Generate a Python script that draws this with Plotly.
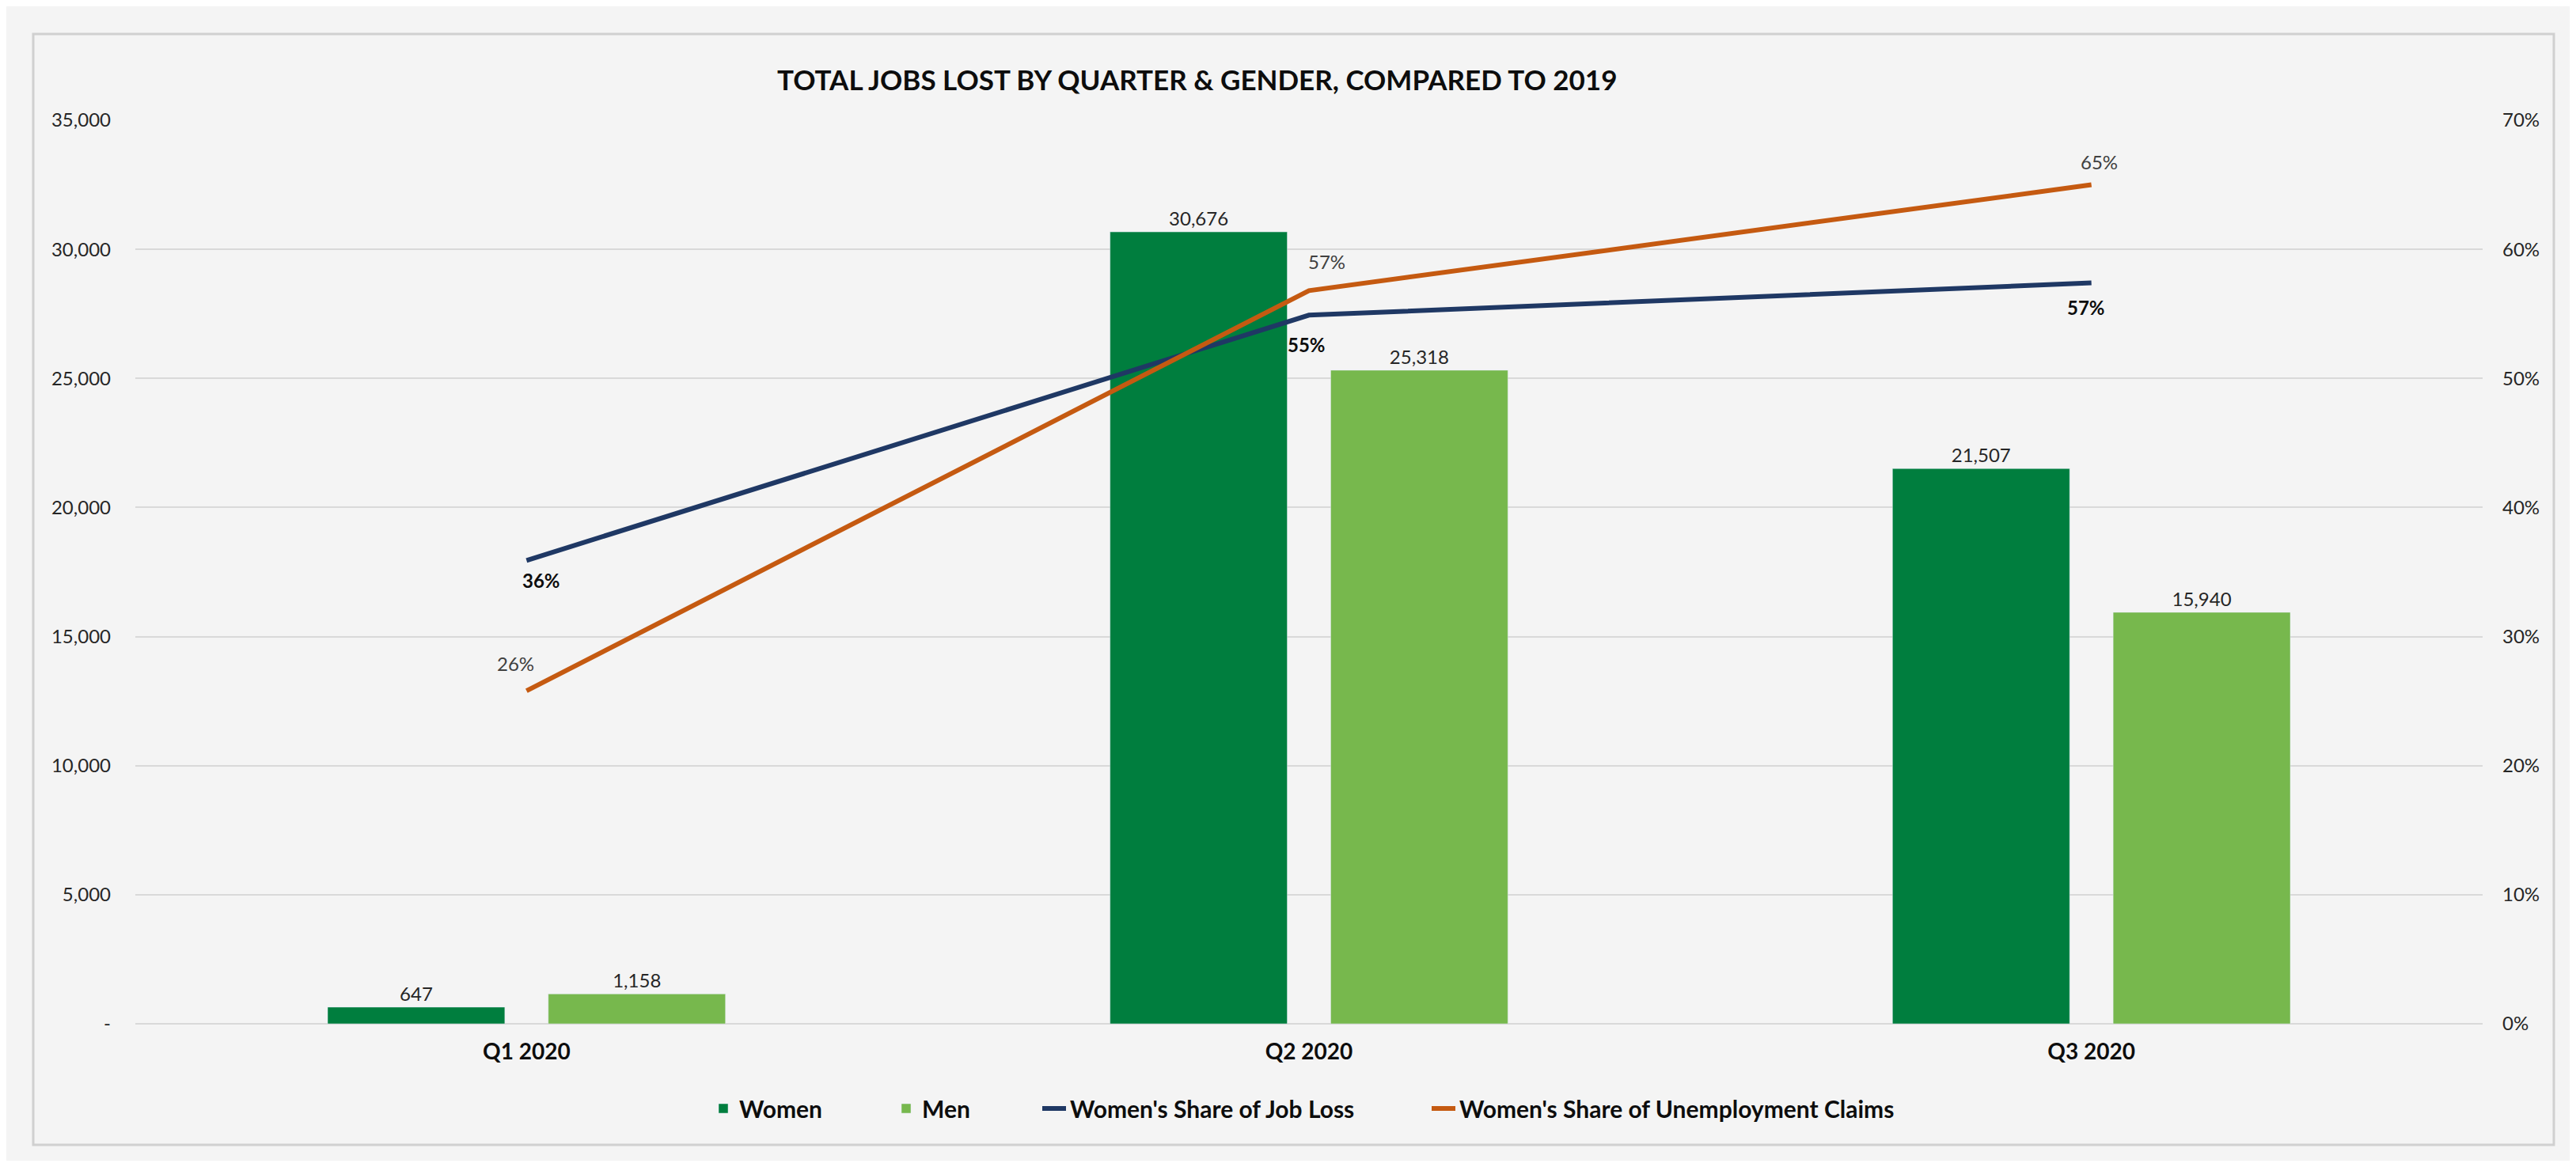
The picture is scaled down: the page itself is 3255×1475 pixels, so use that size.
import plotly.graph_objects as go

# ---------------- data ----------------
quarters = ["Q1 2020", "Q2 2020", "Q3 2020"]
women_jobs_lost = [647, 30676, 21507]
men_jobs_lost = [1158, 25318, 15940]
women_share_job_loss = [0.359, 0.549, 0.574]
women_share_unemp_claims = [0.258, 0.568, 0.650]

left_tickvals = [0, 5000, 10000, 15000, 20000, 25000, 30000, 35000]
left_ticktext = ["-", "5,000", "10,000", "15,000", "20,000", "25,000", "30,000", "35,000"]
right_tickvals = [0, 0.1, 0.2, 0.3, 0.4, 0.5, 0.6, 0.7]

title_text = "TOTAL JOBS LOST BY QUARTER &amp; GENDER, COMPARED TO 2019"

# ---------------- styles / layout geometry (screen px) ----------------
SW, SH = 3255, 1475          # browser window
OFF = 8                      # default html body margin
W, H = SW - 2 * OFF, SH - 2 * OFF
PL, PR, PT, PB = 171, 3137, 152, 1294   # plot area in screen px
PW, PH = PR - PL, PB - PT


def fx(px):
    return (px - PL) / PW


def fy(py):
    return (PB - py) / PH


BG = "#f4f4f4"
GRID = "#d9d9d9"
C_WOMEN = "#007E3E"
C_MEN = "#77B84D"
C_BLUE = "#1F3864"
C_ORANGE = "#C55A11"
FONT = "Lato"

fig = go.Figure()

fig.add_trace(go.Bar(
    name="Women", x=quarters, y=women_jobs_lost, marker_color=C_WOMEN,
    text=[f"{v:,}" for v in women_jobs_lost], textposition="outside",
    textfont=dict(family=FONT, size=24, color="#262626"), cliponaxis=False,
    legend="legend",
))
fig.add_trace(go.Bar(
    name="Men", x=quarters, y=men_jobs_lost, marker_color=C_MEN,
    text=[f"{v:,}" for v in men_jobs_lost], textposition="outside",
    textfont=dict(family=FONT, size=24, color="#262626"), cliponaxis=False,
    legend="legend2",
))
fig.add_trace(go.Scatter(
    name="Women's Share of Job Loss", x=quarters, y=women_share_job_loss,
    mode="lines", yaxis="y2", line=dict(color=C_BLUE, width=6),
    legend="legend3",
))
fig.add_trace(go.Scatter(
    name="Women's Share of Unemployment Claims", x=quarters, y=women_share_unemp_claims,
    mode="lines", yaxis="y2", line=dict(color=C_ORANGE, width=6),
    legend="legend4",
))

# line data labels (pixel offsets are styling only)
blue_shifts = [(19, -25), (-3, -37), (-7, -31)]
orange_shifts = [(-14, 35), (22, 37), (10, 29)]
annotations = []
for q, v, (dx, dy) in zip(quarters, women_share_job_loss, blue_shifts):
    annotations.append(dict(
        x=q, y=v, xref="x", yref="y2", text=f"<b>{v:.0%}</b>", showarrow=False,
        xshift=dx, yshift=dy, font=dict(family=FONT, size=24, color="#0d0d0d"),
    ))
for q, v, (dx, dy) in zip(quarters, women_share_unemp_claims, orange_shifts):
    annotations.append(dict(
        x=q, y=v, xref="x", yref="y2", text=f"{v:.0%}", showarrow=False,
        xshift=dx, yshift=dy, font=dict(family=FONT, size=24, color="#404040"),
    ))

# title
annotations.append(dict(
    x=fx(1512), y=fy(100), xref="paper", yref="paper", text=f"<b>{title_text}</b>",
    showarrow=False, xanchor="center", yanchor="middle",
    font=dict(family=FONT, size=35, color="#0d0d0d"),
))

legend_common = dict(
    orientation="h", yanchor="middle", y=fy(1401), xanchor="left",
    font=dict(family=FONT, size=30, color="#0d0d0d", weight="bold"),
    bgcolor="rgba(0,0,0,0)", itemwidth=30, borderwidth=0,
)

fig.update_layout(
    width=W, height=H,
    paper_bgcolor=BG, plot_bgcolor=BG,
    margin=dict(l=PL - OFF, r=(OFF + W) - PR, t=PT - OFF, b=(OFF + H) - PB, autoexpand=False),
    barmode="group", bargap=0.436, bargroupgap=0.197,
    font=dict(family=FONT, size=24, color="#262626"),
    showlegend=True,
    legend=dict(legend_common, x=fx(936 - 42)),
    legend2=dict(legend_common, x=fx(1167 - 42)),
    legend3=dict(legend_common, x=fx(1354 - 42)),
    legend4=dict(legend_common, x=fx(1846 - 42)),
    xaxis=dict(
        showgrid=False, showline=False, zeroline=False,
        tickfont=dict(family=FONT, size=28, color="#0d0d0d", weight="bold"),
        ticks="", ticklabelstandoff=16,
    ),
    yaxis=dict(
        range=[0, 35000], tickvals=left_tickvals, ticktext=left_ticktext,
        showgrid=True, gridcolor=GRID, gridwidth=2,
        zeroline=True, zerolinecolor=GRID, zerolinewidth=2,
        showline=False, ticks="", ticklabelstandoff=30,
        tickfont=dict(family=FONT, size=24, color="#262626"),
    ),
    yaxis2=dict(
        range=[0, 0.7], tickvals=right_tickvals, tickformat=".0%",
        overlaying="y", side="right", showgrid=False, zeroline=False,
        showline=False, ticks="", ticklabelstandoff=24,
        tickfont=dict(family=FONT, size=24, color="#262626"),
    ),
    annotations=annotations,
    shapes=[dict(
        type="rect", xref="paper", yref="paper",
        x0=fx(42), x1=fx(3227), y0=fy(1447), y1=fy(43),
        line=dict(color="#d0d0d0", width=3), fillcolor="rgba(0,0,0,0)", layer="below",
    )],
)

fig.write_html("out.html")
